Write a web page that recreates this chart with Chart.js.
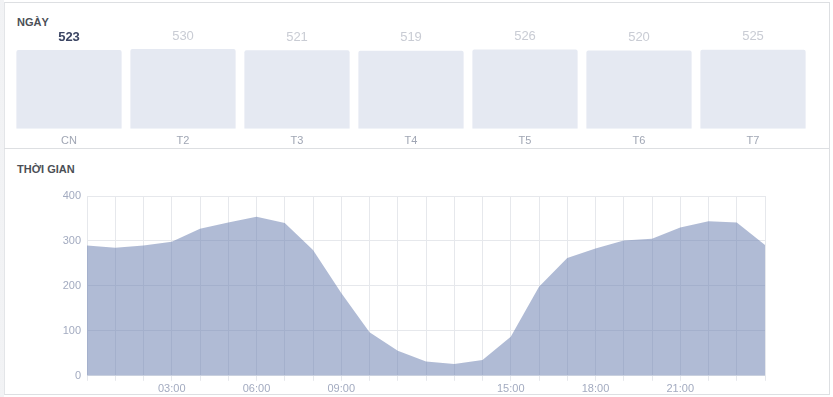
<!DOCTYPE html>
<html>
<head>
<meta charset="utf-8">
<script src="https://cdn.jsdelivr.net/npm/chart.js@4"></script>
<style>
  html, body { margin: 0; padding: 0; background: #fff; font-family: "Liberation Sans", Arial, sans-serif; }
  #page { position: relative; width: 833px; height: 397px; overflow: hidden; }
  .gutter { position: absolute; left: 0; top: 0; width: 4px; height: 397px;
    background-image: radial-gradient(#e2e4e8 0.6px, transparent 0.8px); background-size: 2px 2px; }
  .panel { position: absolute; left: 4px; top: 2px; width: 826px; height: 393px;
    border: 1px solid #dddfe2; border-left: 1px solid #e3e5e8; box-sizing: border-box; }
  .divider { position: absolute; left: 4px; top: 148px; width: 826px; height: 1px; background: #dddfe2; }
  .title { position: absolute; left: 17px; font-size: 11px; font-weight: bold; color: #4b4f56; }
  canvas { position: absolute; }
</style>
</head>
<body>
<div id="page">
  <div class="gutter"></div>
  <div class="panel"></div>
  <div class="divider"></div>
  <div class="title" style="top:16px">NGÀY</div>
  <div class="title" style="top:163px">THỜI GIAN</div>
  <div id="dayBox" style="position:absolute;left:12px;top:20px;width:798px;height:134px"><canvas id="dayChart"></canvas></div>
  <div id="hourBox" style="position:absolute;left:40px;top:181px;width:730px;height:217px"><canvas id="hourChart"></canvas></div>
</div>
<script>
// Du lieu theo ngay
const dayLabels = ["CN", "T2", "T3", "T4", "T5", "T6", "T7"];
const dayValues = [523, 530, 521, 519, 526, 520, 525];
const selectedDay = 0;

// Du lieu theo gio (00:00 -> 24:00)
const hourLabels = ["", "", "", "03:00", "", "", "06:00", "", "", "09:00", "", "", "",
  "", "", "15:00", "", "", "18:00", "", "", "21:00", "", "", ""];
const hourValues = [290, 285, 290, 298, 327, 341, 354, 340, 280, 184, 97, 56, 32,
  26, 35, 87, 198, 262, 283, 301, 305, 330, 344, 341, 291];

// Plugin ve so tren moi cot
const valueLabels = {
  id: "valueLabels",
  afterDatasetsDraw(chart) {
    const ctx = chart.ctx;
    const meta = chart.getDatasetMeta(0);
    ctx.save();
    ctx.textAlign = "center";
    ctx.textBaseline = "middle";
    meta.data.forEach((bar, i) => {
      if (i == selectedDay) {
        ctx.font = "bold 13px 'Liberation Sans', Arial, sans-serif";
        ctx.fillStyle = "#3b4563";
      } else {
        ctx.font = "13px 'Liberation Sans', Arial, sans-serif";
        ctx.fillStyle = "#c9ccd4";
      }
      ctx.fillText(dayValues[i], bar.x, bar.y - 13);
    });
    ctx.restore();
  }
};

new Chart(document.getElementById("dayChart"), {
  type: "bar",
  data: {
    labels: dayLabels,
    datasets: [{
      data: dayValues,
      backgroundColor: "#e5e9f2",
      borderRadius: 2,
      borderSkipped: "bottom",
      categoryPercentage: 1,
      barPercentage: 0.923
    }]
  },
  options: {
    responsive: true,
    maintainAspectRatio: false,
    animation: false,
    layout: { padding: { top: 29, left: 0, right: 0, bottom: 0 } },
    plugins: { legend: { display: false }, tooltip: { enabled: false } },
    scales: {
      x: {
        grid: { display: false, drawTicks: false },
        border: { display: false },
        ticks: { color: "#a0a6b4", font: { size: 11, family: "'Liberation Sans', Arial, sans-serif" }, padding: 6 }
      },
      y: { display: false, min: 0, max: 530 }
    }
  },
  plugins: [valueLabels]
});

new Chart(document.getElementById("hourChart"), {
  type: "line",
  data: {
    labels: hourLabels,
    datasets: [{
      data: hourValues,
      fill: "origin",
      backgroundColor: "rgba(98, 119, 172, 0.5)",
      borderWidth: 0,
      pointRadius: 0,
      tension: 0
    }]
  },
  options: {
    responsive: true,
    maintainAspectRatio: false,
    animation: false,
    layout: { padding: { top: 15, right: 5, left: 0, bottom: 0 } },
    plugins: { legend: { display: false }, tooltip: { enabled: false } },
    scales: {
      x: {
        grid: { color: "#e6e8ec", tickLength: 5, drawOnChartArea: true },
        border: { color: "#e6e8ec" },
        ticks: {
          color: "#a3abc0", autoSkip: false, maxRotation: 0, padding: 2,
          font: { size: 11, family: "'Liberation Sans', Arial, sans-serif" }
        }
      },
      y: {
        min: 0, max: 400,
        afterFit: (s) => { s.width = 47; },
        grid: { color: "#e6e8ec", drawTicks: false },
        border: { display: false },
        ticks: {
          stepSize: 100, color: "#a3abc0", padding: 6,
          font: { size: 11, family: "'Liberation Sans', Arial, sans-serif" }
        }
      }
    }
  }
});
</script>
</body>
</html>
